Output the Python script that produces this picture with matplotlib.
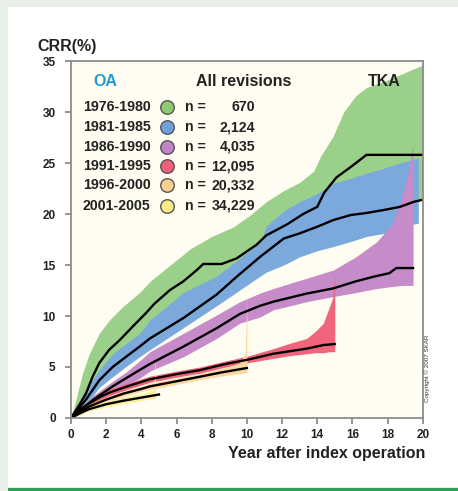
import matplotlib
matplotlib.use('Agg')
import matplotlib.pyplot as plt
from matplotlib.patches import Rectangle

plt.rcParams['font.family'] = ['Liberation Sans', 'DejaVu Sans']

# 1976-1980
g_yr = [0, 0.47, 0.85, 1.23, 1.61, 2.18, 2.75, 3.5, 4.27, 4.74, 5.63, 6.39, 7.15, 7.52, 8.57, 9.42, 10.56, 11.1, 12.3, 13.2, 14.0, 14.4, 15.1, 15.9, 16.8, 20]
g_crr = [0, 1.27, 2.4, 4.05, 5.4, 6.7, 7.6, 8.95, 10.3, 11.2, 12.55, 13.4, 14.5, 15.1, 15.1, 15.65, 17.0, 17.9, 19.0, 20.0, 20.7, 22.1, 23.6, 24.6, 25.8, 25.8]
gb_yr = [0, 0.28, 0.66, 1.04, 1.61, 2.18, 2.94, 3.9, 4.5, 5.5, 6.8, 8.0, 9.2, 10.2, 11.1, 12.1, 13.0, 13.8, 14.2, 14.9, 15.5, 16.2, 16.8, 17.95, 19.1, 20]
g_hi = [0, 1.8, 4.4, 6.3, 8.3, 9.6, 10.9, 12.3, 13.4, 14.8, 16.6, 17.8, 18.7, 19.9, 21.2, 22.3, 23.1, 24.2, 25.7, 27.6, 30.0, 31.6, 32.4, 33.1, 33.95, 34.6]
g_lo = [0, 0.4, 1.0, 1.6, 3.5, 4.8, 5.8, 7.0, 7.8, 9.0, 10.5, 11.6, 13.0, 14.6, 15.8, 17.0, 17.8, 18.5, 18.8, 19.4, 19.7, 20.0, 20.1, 20.4, 20.8, 21.4]

# 1981-1985
b_yr = [0, 0.85, 1.61, 2.37, 3.13, 3.9, 4.49, 6.39, 8.28, 9.42, 10.75, 12.1, 13.0, 14.0, 14.9, 15.9, 16.8, 17.8, 18.7, 19.5, 20]
b_crr = [0, 1.8, 3.7, 5.0, 6.0, 7.0, 7.8, 9.8, 12.1, 13.85, 15.8, 17.6, 18.1, 18.75, 19.4, 19.9, 20.1, 20.4, 20.7, 21.2, 21.4]
bb_yr = [0, 0.85, 1.61, 2.37, 3.13, 3.9, 4.49, 6.39, 8.28, 10.75, 11.1, 12.1, 13.0, 14.0, 14.9, 15.9, 16.8, 17.8, 18.7, 19.75]
b_hi = [0, 2.8, 4.7, 6.3, 7.3, 8.3, 9.6, 12.3, 13.9, 17.2, 18.8, 20.3, 21.2, 22.0, 23.0, 23.5, 24.0, 24.5, 25.0, 25.5]
b_lo = [0, 1.3, 3.0, 4.05, 5.05, 6.0, 6.7, 8.85, 11.0, 13.9, 14.3, 15.0, 15.8, 16.4, 16.8, 17.3, 17.8, 18.1, 18.75, 19.1]

# 1986-1990
p_yr = [0, 0.5, 1.27, 2.37, 3.13, 3.9, 4.49, 6.39, 8.28, 9.6, 10.75, 11.5, 13.4, 14.9, 16.2, 17.2, 18.1, 18.5, 19.45]
p_crr = [0, 0.7, 1.8, 3.1, 3.9, 4.7, 5.3, 7.0, 8.8, 10.2, 11.0, 11.4, 12.2, 12.7, 13.4, 13.85, 14.2, 14.7, 14.7]
pb_yr = [0, 0.5, 1.27, 2.37, 3.13, 3.9, 4.49, 6.39, 8.28, 9.6, 10.75, 11.5, 13.4, 14.9, 16.2, 17.4, 18.3, 18.9, 19.2, 19.45]
p_hi = [0, 0.9, 2.2, 3.6, 4.5, 5.6, 6.5, 8.3, 10.1, 11.4, 12.25, 12.7, 13.7, 14.5, 15.8, 17.3, 19.1, 22.1, 24.3, 26.8]
p_lo = [0, 0.5, 1.4, 2.6, 3.2, 3.9, 4.6, 6.0, 7.8, 9.3, 9.9, 10.6, 11.4, 11.9, 12.3, 12.7, 12.9, 13.0, 13.0, 13.0]

# 1991-1995
r_yr = [0, 0.5, 1.0, 1.7, 2.2, 3.2, 4.49, 6.0, 7.34, 8.8, 10, 10.75, 11.5, 13.4, 14.35, 15.0]
r_crr = [0, 0.8, 1.4, 2.1, 2.5, 3.1, 3.8, 4.3, 4.7, 5.3, 5.7, 6.0, 6.3, 6.8, 7.15, 7.25]
rb_yr = [0, 0.5, 1.0, 1.7, 2.2, 3.2, 4.49, 6.0, 7.34, 8.8, 10, 11.5, 12.4, 13.4, 13.9, 14.35, 14.7, 14.9, 15.0]
r_hi = [0, 1.0, 1.7, 2.4, 2.8, 3.4, 4.1, 4.6, 5.0, 5.6, 6.05, 6.8, 7.3, 7.8, 8.5, 9.3, 10.9, 11.9, 14.2]
r_lo = [0, 0.6, 1.1, 1.8, 2.2, 2.8, 3.5, 4.0, 4.4, 5.0, 5.4, 5.85, 6.1, 6.3, 6.4, 6.4, 6.5, 6.5, 6.5]

# 1996-2000
o_yr = [0, 0.5, 1.0, 2.0, 3.0, 4.0, 4.49, 6.0, 7.34, 8.5, 10.0]
o_crr = [0, 0.6, 1.1, 1.8, 2.4, 2.85, 3.1, 3.6, 4.05, 4.45, 4.9]
ob_yr = [0, 0.5, 1, 2, 3, 4, 4.49, 6, 7.34, 8.5, 9.6, 9.9, 10.0]
o_hi = [0, 0.8, 1.3, 2.05, 2.65, 3.1, 3.4, 3.9, 4.35, 4.8, 5.4, 6.3, 11.8]
o_lo = [0, 0.4, 0.9, 1.55, 2.15, 2.6, 2.8, 3.3, 3.75, 4.1, 4.35, 4.45, 4.45]

# 2001-2005
y_yr = [0, 0.5, 1, 2, 3, 4, 5]
y_crr = [0, 0.45, 0.85, 1.35, 1.7, 2.0, 2.3]
yb_yr = [0, 0.5, 1, 2, 3, 4, 4.7, 4.8]
y_hi = [0, 0.65, 1.1, 1.65, 2.05, 2.4, 2.75, 6.0]
y_lo = [0, 0.3, 0.65, 1.1, 1.4, 1.7, 1.9, 1.9]

periods = ['1976-1980', '1981-1985', '1986-1990', '1991-1995', '1996-2000', '2001-2005']
n_ops = ['670', '2,124', '4,035', '12,095', '20,332', '34,229']
band_cols = ['#9bd08a', '#7ba9dc', '#c58cc9', '#f0657b', '#fdd7a0', '#fcef9f']
dot_cols = ['#8dcc72', '#6fa2dc', '#c383c8', '#f0607a', '#fbd08f', '#fbeb8a']

fig = plt.figure(figsize=(4.58, 4.91), dpi=100)
fig.patch.set_facecolor('#e8efe9')
fig.patches.append(Rectangle((8 / 458, 1 - 487 / 491), 1, 480 / 491, transform=fig.transFigure,
                             facecolor='white', edgecolor='none', zorder=-2))
fig.patches.append(Rectangle((8 / 458, 1 - 490.5 / 491), 1, 2.5 / 491, transform=fig.transFigure,
                             facecolor='#2e9e57', edgecolor='none', zorder=-1))

ax = fig.add_axes([0.155, 0.1487, 0.768, 0.727])
ax.set_zorder(2)
ax.set_facecolor('#fffdf2')

bands = [(gb_yr, g_lo, g_hi), (bb_yr, b_lo, b_hi), (pb_yr, p_lo, p_hi),
         (rb_yr, r_lo, r_hi), (ob_yr, o_lo, o_hi), (yb_yr, y_lo, y_hi)]
for (xs, lo, hi), c in zip(bands, band_cols):
    ax.fill_between(xs, lo, hi, color=c, linewidth=0)

for xs, ys in [(g_yr, g_crr), (b_yr, b_crr), (p_yr, p_crr), (r_yr, r_crr), (o_yr, o_crr), (y_yr, y_crr)]:
    ax.plot(xs, ys, color='black', lw=1.7, solid_joinstyle='miter')

ax.set_xlim(0, 20)
ax.set_ylim(0, 35)
ax.set_xticks(range(0, 21, 2))
ax.set_yticks(range(0, 36, 5))
for s in ax.spines.values():
    s.set_color('#8c8c8c')
    s.set_linewidth(1.3)
ax.tick_params(axis='both', direction='out', length=4, width=1.3, color='#8c8c8c',
               labelsize=8.5, labelcolor='#222222')
ax.tick_params(axis='y', pad=7)
ax.tick_params(axis='x', pad=4)
for lab in ax.get_xticklabels() + ax.get_yticklabels():
    lab.set_fontweight('bold')

# header and legend
ax.text(1.93, 33.0, 'OA', color='#1e9ad6', fontsize=11.5, fontweight='bold', ha='center', va='center')
ax.text(9.84, 33.0, 'All revisions', color='#222222', fontsize=11.5, fontweight='bold', ha='center', va='center')
ax.text(17.8, 33.0, 'TKA', color='#222222', fontsize=11.5, fontweight='bold', ha='center', va='center')
row_y = [30.5, 28.5, 26.6, 24.7, 22.8, 20.8]
for yy, per, n, c in zip(row_y, periods, n_ops, dot_cols):
    ax.text(4.53, yy, per, fontsize=10.2, fontweight='bold', color='#222222', ha='right', va='center')
    ax.scatter([5.48], [yy], s=95, color=c, edgecolor='#555555', linewidth=1.0, zorder=5)
    ax.text(6.48, yy, 'n =', fontsize=10.2, fontweight='bold', color='#222222', ha='left', va='center')
    ax.text(10.46, yy, n, fontsize=10.2, fontweight='bold', color='#222222', ha='right', va='center')

fig.text(37 / 458, 1 - 46.5 / 491, 'CRR(%)', fontsize=11.5, fontweight='bold', color='#222222',
         ha='left', va='center')
fig.text(425 / 458, 1 - 458 / 491, 'Year after index operation', fontsize=11.5, fontweight='bold',
         color='#222222', ha='right', va='baseline')
fig.text(427 / 458, 1 - 368 / 491, 'Copyright \u00a9 2007 SKAR', fontsize=4.5, rotation=90,
         color='#333333', ha='center', va='center')

fig.savefig('out.png', dpi=100, facecolor=fig.get_facecolor())
